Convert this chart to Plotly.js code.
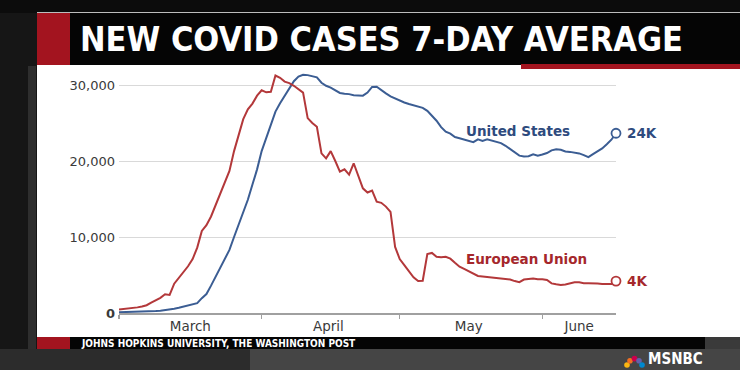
<!DOCTYPE html>
<html>
<head>
<meta charset="utf-8">
<script src="https://cdn.plot.ly/plotly-3.0.1.min.js"></script>
<style>
  html, body { margin: 0; padding: 0; background: #1e1e1e; }
  #chart { width: 740px; height: 370px; }
</style>
</head>
<body>
<div id="chart"></div>
<script>
// ---- data (7-day average of new cases) ----
const startDate = '2020-03-01';
const usCases = [100,110,120,130,150,170,190,220,260,310,
  380,460,560,690,850,1000,1100,1300,1950,2500,
  3600,4800,5800,7100,8300,10000,11700,13400,14900,16900,
  18900,21300,22950,24650,26500,27600,28600,29600,30500,31100,
  31350,31300,31150,31000,30300,29900,29650,29300,28950,28850,
  28800,28650,28600,28600,29000,29750,29780,29300,28900,28500,
  28200,28000,27700,27500,27300,27150,27000,26600,26000,25300,
  24450,23850,23600,23150,23000,22800,22600,22480,22850,22650,
  22850,22700,22500,22350,22000,21600,21150,20700,20580,20620,
  20880,20700,20850,21050,21400,21550,21480,21250,21200,21100,
  21000,20780,20500,20900,21250,21650,22200,22800,23650];
const euCases = [450,500,560,640,740,860,1020,1350,1650,2000,
  2460,2380,3850,4600,5300,6150,7100,8600,10800,11550,
  12700,14200,15700,17200,18700,21300,23500,25500,26800,27550,
  28600,29300,29040,29100,31250,30950,30450,30250,29900,29500,
  29000,25650,25000,24500,21000,20350,21300,20000,18600,18900,
  18200,19700,18000,16400,15850,16100,14650,14500,14000,13300,
  8700,7100,6300,5500,4700,4200,4250,7750,7900,7400,
  7330,7400,7150,6600,6090,5800,5500,5200,4870,4800,
  4720,4650,4600,4550,4470,4400,4200,4050,4400,4450,
  4550,4450,4450,4350,3900,3780,3700,3750,3880,4050,
  4050,3920,3900,3910,3880,3830,3820,3820,4200];
const seriesNames = ['United States', 'European Union'];
const endLabels = ['24K', '4K'];
const monthLabels = ['March', 'April', 'May', 'June'];
const monthLabelDates = ['2020-03-16 12:00', '2020-04-15 12:00', '2020-05-16', '2020-06-09'];
const monthStarts = ['2020-03-01', '2020-04-01', '2020-05-01', '2020-06-01'];
const yTickVals = [0, 10000, 20000, 30000];
const yTickText = ['<b>0</b>', '10,000', '20,000', '30,000'];
const seriesLabelDate = '2020-05-15';
const seriesLabelY = [24000, 7100];
const titleText = 'NEW COVID CASES 7-DAY AVERAGE';
const sourceText = 'JOHNS HOPKINS UNIVERSITY, THE WASHINGTON POST';

// ---- dates ----
const dates = usCases.map((_, i) => {
  const d = new Date(startDate + 'T00:00:00Z');
  d.setUTCDate(d.getUTCDate() + i);
  return d.toISOString().slice(0, 10);
});
const lastDate = dates[dates.length - 1];

// ---- styles ----
const BLUE = '#3b5d93', RED = '#b3383a';
const BLUE_TXT = '#2e4b7e', RED_TXT = '#a5272b';
const W = 740, H = 370;
const M = { l: 119, r: 124, t: 70, b: 57 };
const PW = W - M.l - M.r, PH = H - M.t - M.b;
const px = X => (X - M.l) / PW;          // pixel x -> paper
const py = Y => (H - M.b - Y) / PH;      // pixel y -> paper
const rect = (x0, y0, x1, y1, color) => ({
  type: 'rect', xref: 'paper', yref: 'paper', layer: 'below',
  x0: px(x0), x1: px(x1), y0: py(y1), y1: py(y0),
  fillcolor: color, line: { width: 0 }
});
const dot = (cx, cy, r, color) => ({
  type: 'circle', xref: 'paper', yref: 'paper', layer: 'below',
  x0: px(cx - r), x1: px(cx + r), y0: py(cy + r), y1: py(cy - r),
  fillcolor: color, line: { width: 0 }
});

const traces = [
  { x: dates, y: usCases, name: seriesNames[0], type: 'scatter', mode: 'lines',
    line: { color: BLUE, width: 2 }, hoverinfo: 'skip' },
  { x: dates, y: euCases, name: seriesNames[1], type: 'scatter', mode: 'lines',
    line: { color: RED, width: 2 }, hoverinfo: 'skip' },
  { x: [lastDate], y: [usCases[usCases.length - 1]], type: 'scatter', mode: 'markers',
    cliponaxis: false, marker: { symbol: 'circle', size: 9, color: '#ffffff', line: { color: BLUE, width: 1.8 } } },
  { x: [lastDate], y: [euCases[euCases.length - 1]], type: 'scatter', mode: 'markers',
    cliponaxis: false, marker: { symbol: 'circle', size: 9, color: '#ffffff', line: { color: RED, width: 1.8 } } }
];

const tickFont = { family: 'DejaVu Sans, Arial, sans-serif', size: 13, color: '#3a3a3a' };
const condensed = 'DejaVu Sans Condensed, Liberation Sans Narrow, DejaVu Sans, sans-serif';

const layout = {
  width: W, height: H,
  margin: M,
  paper_bgcolor: '#1e1e1e',
  plot_bgcolor: 'rgba(0,0,0,0)',
  showlegend: false,
  title: {
    text: titleText, xref: 'container', yref: 'container',
    x: 80 / W, xanchor: 'left', y: 1 - 39 / H, yanchor: 'middle',
    font: { family: condensed, size: 34, weight: 'bold', color: '#ffffff' }
  },
  xaxis: {
    type: 'date', range: [startDate, lastDate],
    tickmode: 'array', tickvals: monthLabelDates, ticktext: monthLabels,
    ticks: '', ticklen: 0, tickfont: { ...tickFont, size: 13.5 },
    showgrid: false, zeroline: false,
    showline: true, linecolor: '#a0a0a0', linewidth: 1.5,
    minor: { tickmode: 'array', tickvals: monthStarts, ticks: 'outside', ticklen: 4,
             tickwidth: 1.2, tickcolor: '#a0a0a0', showgrid: false },
    fixedrange: true
  },
  yaxis: {
    range: [0, (H - M.b - M.t) / 76 * 10000],
    tickmode: 'array', tickvals: yTickVals, ticktext: yTickText,
    ticks: '', tickfont: tickFont, ticklabelstandoff: 3,
    showgrid: true, gridcolor: '#d9d9d9', gridwidth: 1,
    zeroline: false, showline: false, fixedrange: true
  },
  shapes: [
    rect(0, 0, 740, 13, '#0c0c0c'),
    rect(0, 13, 37, 370, '#161616'),
    rect(28, 66, 36, 370, '#2e2e2e'),
    rect(0, 349, 250, 370, '#2c2c2c'),
    rect(250, 349, 740, 370, '#454545'),
    rect(705, 337, 740, 349, '#3a3a3a'),
    { type: 'line', xref: 'paper', yref: 'paper', layer: 'below',
      x0: px(37), x1: px(740), y0: py(12.5), y1: py(12.5), line: { color: '#bdbdbd', width: 1 } },
    rect(37, 13, 740, 65, '#050505'),
    rect(37, 13, 70, 65, '#a3141f'),
    rect(37, 65, 740, 337, '#ffffff'),
    rect(521, 64, 740, 69, '#a3141f'),
    rect(37, 337, 705, 349, '#050505'),
    rect(37, 337, 70, 349, '#a3141f'),
    dot(627, 365, 2.8, '#fcb711'),
    dot(630, 360.8, 2.8, '#f37021'),
    dot(634.5, 358.6, 2.8, '#cc004c'),
    dot(639, 360.8, 2.8, '#6460aa'),
    dot(642, 365, 2.8, '#0089d0')
  ],
  annotations: [
    { x: seriesLabelDate, y: seriesLabelY[0], xref: 'x', yref: 'y', text: seriesNames[0],
      showarrow: false, xanchor: 'left', yanchor: 'middle',
      font: { family: 'DejaVu Sans, sans-serif', size: 13.5, weight: 'bold', color: BLUE_TXT } },
    { x: seriesLabelDate, y: seriesLabelY[1], xref: 'x', yref: 'y', text: seriesNames[1],
      showarrow: false, xanchor: 'left', yanchor: 'middle',
      font: { family: 'DejaVu Sans, sans-serif', size: 13.5, weight: 'bold', color: RED_TXT } },
    { x: lastDate, y: usCases[usCases.length - 1], xref: 'x', yref: 'y', text: endLabels[0],
      showarrow: false, xanchor: 'left', yanchor: 'middle', xshift: 9,
      font: { family: 'DejaVu Sans, sans-serif', size: 13.5, weight: 'bold', color: BLUE_TXT } },
    { x: lastDate, y: euCases[euCases.length - 1], xref: 'x', yref: 'y', text: endLabels[1],
      showarrow: false, xanchor: 'left', yanchor: 'middle', xshift: 9,
      font: { family: 'DejaVu Sans, sans-serif', size: 13.5, weight: 'bold', color: RED_TXT } },
    { x: px(79), y: py(343), xref: 'paper', yref: 'paper', text: sourceText,
      showarrow: false, xanchor: 'left', yanchor: 'middle',
      font: { family: condensed, size: 10, weight: 'bold', color: '#ffffff' } },
    { x: px(704), y: py(369), xref: 'paper', yref: 'paper', text: 'MSNBC',
      showarrow: false, xanchor: 'right', yanchor: 'bottom', borderpad: 0,
      font: { family: condensed, size: 15, weight: 'bold', color: '#ffffff' } }
  ]
};

Plotly.newPlot('chart', traces, layout, { staticPlot: true, displayModeBar: false });
</script>
</body>
</html>
